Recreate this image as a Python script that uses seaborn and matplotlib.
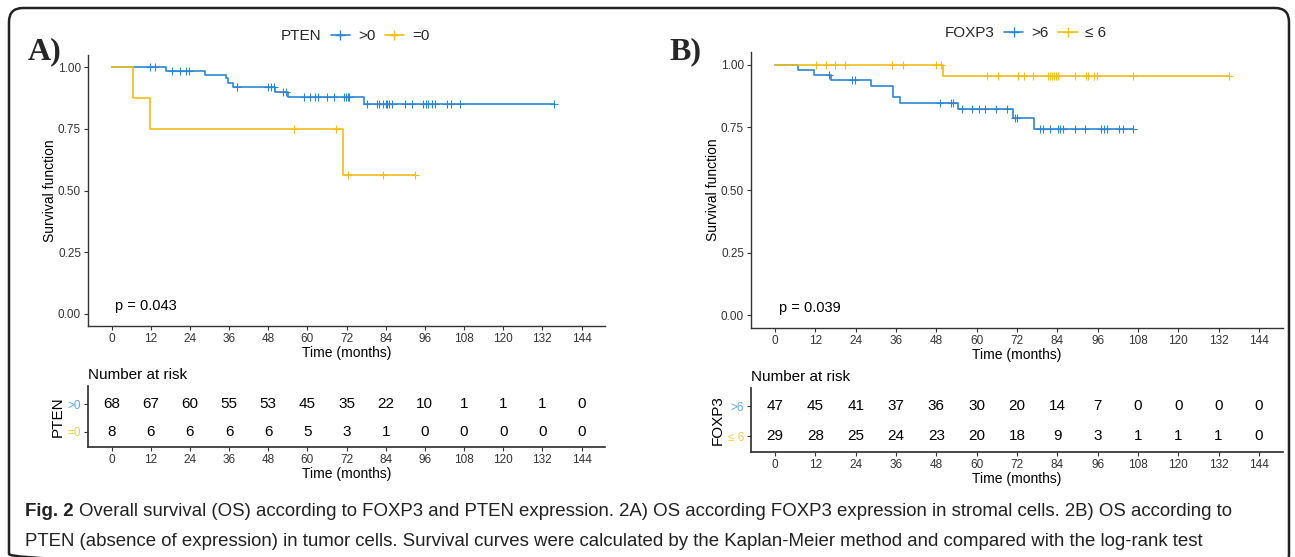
import numpy as np
import pandas as pd
import matplotlib
matplotlib.use("Agg")
import matplotlib.pyplot as plt
import matplotlib.font_manager as fm
from matplotlib.lines import Line2D
from matplotlib.patches import FancyBboxPatch
import seaborn as sns

# ---- data ----
# panel A: PTEN
A_times_pos = [0, 16.6, 28.6, 35.1, 35.8, 37.3, 50.0, 54.1, 77.4, 135.6]
A_surv_pos = [1.0, 0.987, 0.970, 0.956, 0.936, 0.919, 0.899, 0.881, 0.853, 0.853]
A_cens_pos = [11.8, 13.4, 18.5, 21.0, 22.9, 23.6, 38.3, 48.1, 49.0, 49.7, 52.6, 53.5,
              59.0, 60.9, 62.4, 63.2, 66.0, 68.1, 71.3, 71.9, 72.6, 72.9, 78.3, 81.4,
              82.0, 83.3, 84.2, 84.5, 85.0, 85.9, 89.9, 92.2, 95.5, 96.4, 97.1, 98.2,
              99.2, 102.9, 103.9, 106.8, 135.6]
A_times_zero = [0, 6.5, 11.7, 70.9, 92.9]
A_surv_zero = [1.0, 0.875, 0.75, 0.5625, 0.5625]
A_cens_zero = [56.0, 68.9, 72.4, 83.1, 92.9]

# panel B: FOXP3
B_times_hi = [0, 6.7, 11.7, 16.6, 28.4, 35.1, 37.1, 54.3, 70.7, 77.1, 106.6]
B_surv_hi = [1.0, 0.980, 0.959, 0.939, 0.914, 0.870, 0.845, 0.821, 0.787, 0.743, 0.743]
B_cens_hi = [16.1, 22.9, 23.7, 49.2, 52.4, 53.0, 55.7, 58.7, 60.8, 62.4, 65.8, 68.9,
             71.3, 71.9, 78.7, 79.7, 81.8, 84.1, 84.7, 85.8, 89.2, 92.3, 97.0, 97.9,
             98.8, 102.5, 103.6, 106.6]
B_times_lo = [0, 49.9, 135.0]
B_surv_lo = [1.0, 0.955, 0.955]
B_cens_lo = [12.2, 15.1, 17.8, 20.8, 34.9, 38.2, 47.9, 49.3, 63.0, 66.4, 72.2, 74.2,
             76.9, 81.3, 81.8, 82.4, 83.1, 83.7, 84.3, 89.3, 92.5, 93.0, 94.8, 95.8,
             106.4, 135.0]

risk_times = [0, 12, 24, 36, 48, 60, 72, 84, 96, 108, 120, 132, 144]
A_risk_pos = [68, 67, 60, 55, 53, 45, 35, 22, 10, 1, 1, 1, 0]
A_risk_zero = [8, 6, 6, 6, 6, 5, 3, 1, 0, 0, 0, 0, 0]
B_risk_hi = [47, 45, 41, 37, 36, 30, 20, 14, 7, 0, 0, 0, 0]
B_risk_lo = [29, 28, 25, 24, 23, 20, 18, 9, 3, 1, 1, 1, 0]

BLUE = "#2E86D1"
YELLOW = "#F0BE1E"
BLUE_LT = "#5AA9E6"
YELLOW_LT = "#F5CC4A"
GREY = "#333333"

sns.set_theme(style="ticks")
names = {f.name for f in fm.fontManager.ttflist}
narrow = "Liberation Sans Narrow" in names
plt.rcParams["font.family"] = ["Liberation Sans", "DejaVu Sans"]
plt.rcParams["axes.edgecolor"] = GREY
plt.rcParams["xtick.color"] = GREY
plt.rcParams["ytick.color"] = GREY

fig = plt.figure(figsize=(12.95, 5.57), dpi=100)
W, H = 1295, 557


def box(l, t, r, b):
    return [l / W, 1 - b / H, (r - l) / W, (b - t) / H]


def km_panel(ax, groups, pval):
    frames = []
    for name, times, surv, cens, col in groups:
        frames.append(pd.DataFrame({"time": times, "surv": surv, "group": name}))
    df = pd.concat(frames, ignore_index=True)
    pal = {g[0]: g[4] for g in groups}
    sns.lineplot(data=df, x="time", y="surv", hue="group", palette=pal,
                 drawstyle="steps-post", estimator=None, lw=1.2, legend=False,
                 ax=ax)
    for name, times, surv, cens, col in groups:
        idx = np.searchsorted(times, cens, side="right") - 1
        cy = np.asarray(surv)[idx]
        sns.scatterplot(x=cens, y=cy, marker="+", s=30, color=col,
                        linewidth=0.8, ax=ax, zorder=3)
    ax.set_xlim(-7.2, 151.2)
    ax.set_ylim(-0.05, 1.05)
    ax.set_xticks(risk_times)
    ax.set_yticks([0, 0.25, 0.5, 0.75, 1.0])
    ax.set_yticklabels(["0.00", "0.25", "0.50", "0.75", "1.00"])
    ax.tick_params(labelsize=8.5, length=3, width=0.8, colors=GREY, pad=2)
    ax.set_xlabel("Time (months)", fontsize=10, labelpad=1, color="black")
    ax.set_ylabel("Survival function", fontsize=10, labelpad=1, color="black")
    ax.text(1, 0.03, pval, fontsize=10.5, color="black", va="center")
    sns.despine(ax=ax)
    for s in ("left", "bottom"):
        ax.spines[s].set_linewidth(1.0)


def risk_panel(ax, rows, title, ylab, ylim):
    for i, (lab, vals, col) in enumerate(rows):
        y = len(rows) - 1 - i
        for t, n in zip(risk_times, vals):
            ax.text(t, y, str(n), ha="center", va="center", fontsize=11,
                    color="black")
    ax.set_xlim(-7.2, 151.2)
    ax.set_ylim(*ylim)
    ax.set_xticks(risk_times)
    ax.set_yticks([len(rows) - 1 - i for i in range(len(rows))])
    ax.set_yticklabels([r[0] for r in rows])
    for tl, r in zip(ax.get_yticklabels(), rows):
        tl.set_color(r[2])
    ax.tick_params(labelsize=8.5, length=3, width=0.8, pad=2)
    ax.set_xlabel("Time (months)", fontsize=10, labelpad=1, color="black")
    ax.set_ylabel(ylab, fontsize=11, labelpad=2, color="black")
    ax.set_title(title, loc="left", fontsize=11, pad=5, color="black")
    sns.despine(ax=ax)


def legend(ax, title, labels, x):
    handles = [Line2D([], [], ls="none")] + [
        Line2D([0], [0], color=c, marker="+", lw=1.2, markersize=7)
        for c in (BLUE, YELLOW)]
    ax.legend(handles, [title] + labels, ncol=3, loc="lower center",
              bbox_to_anchor=(x, 1.02), frameon=False, fontsize=11,
              handlelength=1.3, handletextpad=0.5, columnspacing=0.6,
              borderaxespad=0)


# background frame
bg = fig.add_axes([0, 0, 1, 1], zorder=-5)
bg.set_xlim(0, W)
bg.set_ylim(H, 0)
bg.axis("off")
bg.add_patch(FancyBboxPatch((9, 8), 1280, 560, boxstyle="round,pad=0,rounding_size=14",
                            fill=False, lw=1.8, ec="#222222"))

# panel A
axA = fig.add_axes(box(88, 55, 605, 326))
km_panel(axA, [(">0", A_times_pos, A_surv_pos, A_cens_pos, BLUE),
               ("=0", A_times_zero, A_surv_zero, A_cens_zero, YELLOW)],
         "p = 0.043")
legend(axA, "PTEN", [">0", "=0"], 0.49)
fig.text(28 / W, 1 - 52 / H, "A)", fontsize=23, fontweight="bold",
         family="Liberation Serif", va="center")

rA = fig.add_axes(box(88, 386, 605, 447))
risk_panel(rA, [(">0", A_risk_pos, BLUE_LT), ("=0", A_risk_zero, YELLOW_LT)],
           "Number at risk", "PTEN", (-0.55, 1.65))

# panel B
axB = fig.add_axes(box(751, 52, 1283, 328))
km_panel(axB, [(">6", B_times_hi, B_surv_hi, B_cens_hi, BLUE),
               ("≤ 6", B_times_lo, B_surv_lo, B_cens_lo, YELLOW)],
         "p = 0.039")
legend(axB, "FOXP3", [">6", "≤ 6"], 0.49)
fig.text(669 / W, 1 - 52 / H, "B)", fontsize=23, fontweight="bold",
         family="Liberation Serif", va="center")

rB = fig.add_axes(box(751, 388, 1283, 452))
risk_panel(rB, [(">6", B_risk_hi, BLUE_LT), ("≤ 6", B_risk_lo, YELLOW_LT)],
           "Number at risk", "FOXP3", (-0.53, 1.6))

# caption
csize = 13.4
line1 = ("Overall survival (OS) according to FOXP3 and PTEN expression. 2A) OS according "
         "FOXP3 expression in stromal cells. 2B) OS according to")
line2 = ("PTEN (absence of expression) in tumor cells. Survival curves were calculated by "
         "the Kaplan-Meier method and compared with the log-rank test")
t1 = fig.text(25 / W, 1 - 511 / H, "Fig. 2", fontsize=csize, fontweight="bold",
              va="center", color="#222222")
fig.canvas.draw()
bb = t1.get_window_extent()
fig.text((bb.x1 + 5) / W, 1 - 511 / H, line1, fontsize=csize, va="center",
         color="#222222")
fig.text(25 / W, 1 - 541 / H, line2, fontsize=csize, va="center", color="#222222")

fig.savefig("out.png", dpi=100)
